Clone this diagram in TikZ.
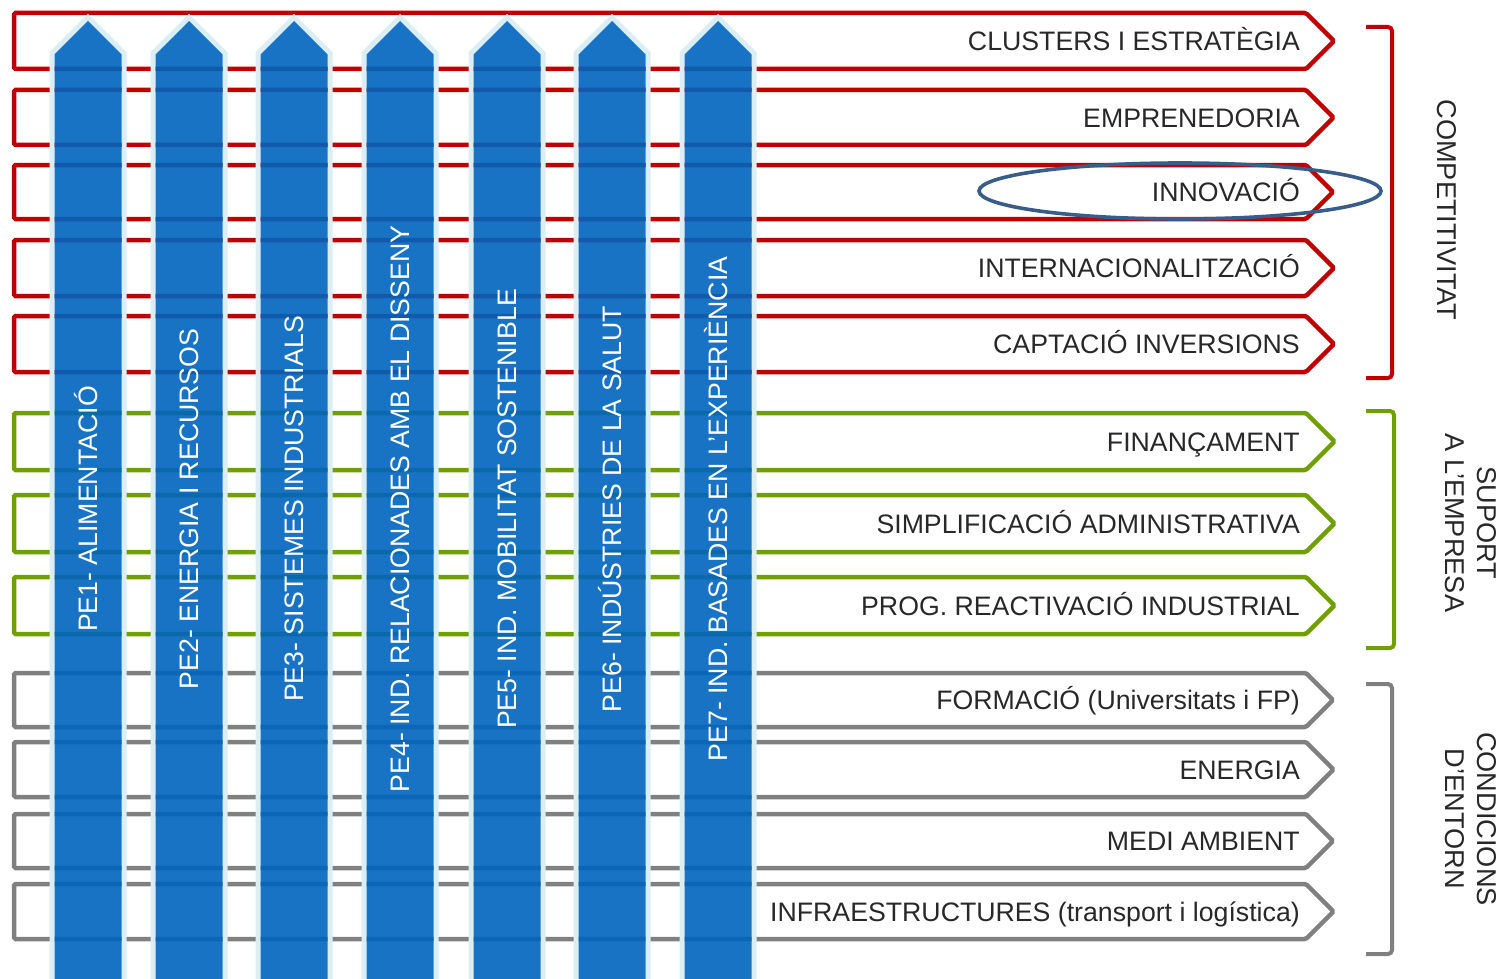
\documentclass[tikz,border=0pt]{standalone}
\usepackage{fontspec}
\setmainfont{Liberation Sans}
\definecolor{cred}{RGB}{192,0,0}
\definecolor{cgreen}{RGB}{112,160,0}
\definecolor{cgray}{RGB}{128,128,128}
\definecolor{cblue}{RGB}{0,100,190}
\definecolor{clight}{RGB}{218,238,243}
\definecolor{ctext}{RGB}{40,40,40}
\definecolor{cellipse}{RGB}{56,93,138}
\tikzset{
  frame/.style={line width=4.5pt, line join=miter, rounded corners=1.5pt},
  lbl/.style={font=\fontsize{26.7}{31}\selectfont, text=ctext, inner sep=0pt, anchor=east, text height=19.1pt, text depth=0pt},
  bartxt/.style={font=\fontsize{26.7}{31}\selectfont, text=white, inner sep=0pt, rotate=90, text height=19.1pt, text depth=0pt},
  sidetxt/.style={font=\fontsize{27.2}{32}\selectfont, text=ctext, inner sep=0pt, rotate=-90, align=center},
  brace/.style={line width=4pt, rounded corners=4pt},
}
\newcommand\harrow[5]{%
  \draw[frame,#1] (14,#2) -- (1306,#2) -- ({1306+(#3-#2)/2},{(#2+#3)/2}) -- (1306,#3) -- (14,#3) -- cycle;
  \node[lbl] (#4) at (1300,{(#2+#3)/2}) {#5};
}
\newcommand\vbar[3]{%
  \fill[clight, even odd rule] ({#1-38.5},985) -- ({#1-38.5},52) -- (#1,14) -- ({#1+38.5},52) -- ({#1+38.5},985) -- cycle
     ({#1-33.5},985) -- ({#1-33.5},54.5) -- (#1,21) -- ({#1+33.5},54.5) -- ({#1+33.5},985) -- cycle;
  \fill[cblue, fill opacity=0.9] ({#1-33.5},985) -- ({#1-33.5},54.5) -- (#1,21) -- ({#1+33.5},54.5) -- ({#1+33.5},985) -- cycle;
  \node[bartxt] (#2) at (#1,509) {#3};
}
\begin{document}
\begin{tikzpicture}[x=1pt,y=-1pt]
\useasboundingbox (0,0) rectangle (1504,979);
% red rows
\harrow{cred}{13}{69}{r1}{CLUSTERS I ESTRATÈGIA}
\harrow{cred}{90}{145}{r2}{EMPRENEDORIA}
\harrow{cred}{165}{219}{r3}{INNOVACIÓ}
\harrow{cred}{240}{296}{r4}{INTERNACIONALITZACIÓ}
\harrow{cred}{316}{372}{r5}{CAPTACIÓ INVERSIONS}
% green rows
\harrow{cgreen}{413}{470}{g1}{FINANÇAMENT}
\harrow{cgreen}{495}{552}{g2}{SIMPLIFICACIÓ ADMINISTRATIVA}
\harrow{cgreen}{577}{634}{g3}{PROG. REACTIVACIÓ INDUSTRIAL}
% gray rows
\harrow{cgray}{673}{727}{c1}{FORMACIÓ (Universitats i FP)}
\harrow{cgray}{742}{797}{c2}{ENERGIA}
\harrow{cgray}{814}{868}{c3}{MEDI AMBIENT}
\harrow{cgray}{884}{939}{c4}{INFRAESTRUCTURES (transport i logística)}
% vertical bars
\vbar{88}{p1}{PE1- ALIMENTACIÓ}
\vbar{189}{p2}{PE2- ENERGIA I RECURSOS}
\vbar{294}{p3}{PE3- SISTEMES INDUSTRIALS}
\vbar{400}{p4}{PE4- IND. RELACIONADES AMB EL DISSENY}
\vbar{507}{p5}{PE5- IND. MOBILITAT SOSTENIBLE}
\vbar{612}{p6}{PE6- INDÚSTRIES DE LA SALUT}
\vbar{718}{p7}{PE7- IND. BASADES EN L’EXPERIÈNCIA}
% ellipse
\draw[cellipse, line width=3.6pt] (1180,191) ellipse [x radius=201, y radius=28];
% brackets
\draw[brace,cred] (1366,27) -- (1392,27) -- (1392,378) -- (1366,378);
\draw[brace,cgreen] (1366,411) -- (1394,411) -- (1394,648) -- (1366,648);
\draw[brace,cgray] (1366,684) -- (1392,684) -- (1392,954) -- (1366,954);
% side labels
\node[sidetxt] (s1) at (1447,210) {COMPETITIVITAT};
\node[sidetxt] (s2) at (1471,523) {SUPORT\\A L’EMPRESA};
\node[sidetxt] (s3) at (1471,819) {CONDICIONS\\D’ENTORN};
\end{tikzpicture}
\end{document}
